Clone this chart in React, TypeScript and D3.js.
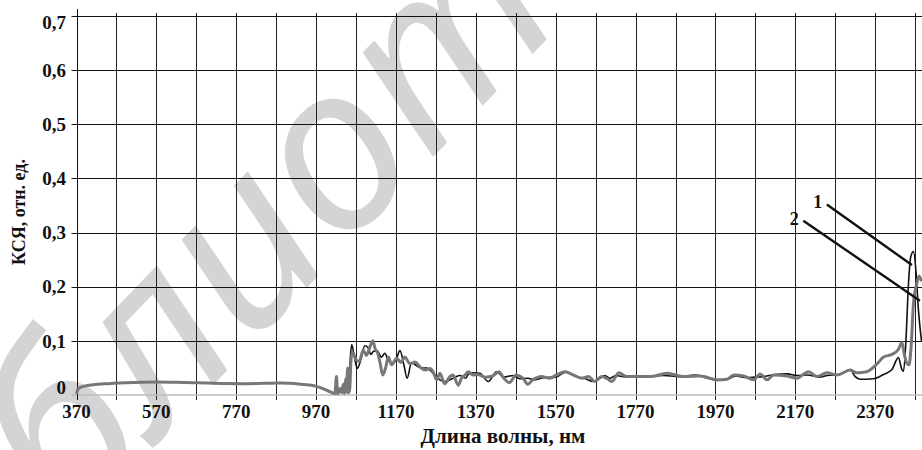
import React, { useEffect, useRef } from 'react';
import * as d3 from 'd3';

// Spectrum 2 (gray, thick)
const wl2 = [
  370, 373, 380, 395, 412, 450, 512, 570, 640, 700, 800, 880, 930, 965, 990, 1005, 1017,
  1021, 1024, 1030, 1034, 1038, 1041, 1044, 1046, 1049, 1051, 1054, 1058, 1062, 1070,
  1078, 1088, 1096, 1103, 1112, 1118, 1124, 1130, 1137, 1144, 1151, 1159, 1172, 1182,
  1192, 1205, 1218, 1230, 1243, 1255, 1263, 1272, 1280, 1292, 1305, 1313, 1326, 1334,
  1343, 1351, 1363, 1374, 1395, 1412, 1429, 1437, 1454, 1471, 1488, 1500, 1513, 1534,
  1555, 1572, 1593, 1614, 1635, 1652, 1668, 1685, 1699, 1711, 1728, 1748, 1773, 1807,
  1849, 1891, 1932, 1974, 1999, 2016, 2041, 2066, 2082, 2099, 2116, 2149, 2174, 2203,
  2224, 2249, 2274, 2308, 2324, 2349, 2374, 2391, 2412, 2428, 2437, 2443, 2449, 2455,
  2460, 2466, 2474, 2480, 2486,
];
const ksy2 = [
  0.002, 0.01, 0.014, 0.017, 0.019, 0.021, 0.023, 0.024, 0.023, 0.022, 0.021, 0.022, 0.02,
  0.017, 0.011, 0.006, 0.003, 0.034, 0.002, 0.012, 0.004, 0.02, 0.003, 0.03, 0.005, 0.05,
  0.004, 0.01, 0.07, 0.078, 0.065, 0.062, 0.083, 0.073, 0.085, 0.1, 0.085, 0.078, 0.06,
  0.037, 0.05, 0.07, 0.056, 0.068, 0.06, 0.07, 0.058, 0.061, 0.052, 0.046, 0.049, 0.043,
  0.028, 0.04, 0.021, 0.034, 0.037, 0.018, 0.031, 0.037, 0.043, 0.037, 0.038, 0.033,
  0.035, 0.043, 0.034, 0.023, 0.037, 0.031, 0.02, 0.028, 0.034, 0.031, 0.037, 0.043,
  0.037, 0.031, 0.034, 0.025, 0.034, 0.03, 0.025, 0.041, 0.034, 0.034, 0.034, 0.04,
  0.034, 0.035, 0.028, 0.029, 0.037, 0.035, 0.028, 0.039, 0.028, 0.037, 0.035, 0.031,
  0.043, 0.034, 0.041, 0.037, 0.046, 0.041, 0.043, 0.057, 0.07, 0.075, 0.084, 0.097,
  0.075, 0.059, 0.056, 0.09, 0.17, 0.205, 0.22, 0.21,
];

// Spectrum 1 (black, thin)
const wl1 = [
  1048, 1054, 1059, 1066, 1073, 1082, 1092, 1100, 1107, 1113, 1122, 1134, 1142, 1150,
  1160, 1170, 1180, 1190, 1198, 1209, 1222, 1234, 1247, 1255, 1267, 1280, 1292, 1305,
  1318, 1330, 1345, 1351, 1363, 1380, 1401, 1422, 1440, 1463, 1480, 1500, 1517, 1540,
  1570, 1597, 1620, 1645, 1663, 1681, 1693, 1706, 1720, 1745, 1770, 1800, 1840, 1880,
  1920, 1950, 1975, 2000, 2020, 2050, 2070, 2090, 2120, 2150, 2175, 2200, 2230, 2250,
  2282, 2307, 2320, 2332, 2366, 2391, 2412, 2428, 2437, 2441, 2447, 2453, 2459, 2466,
  2472, 2478, 2486,
];
const ksy1 = [
  0.008, 0.05, 0.093, 0.07, 0.049, 0.065, 0.091, 0.088, 0.075, 0.08, 0.082, 0.07, 0.077,
  0.065, 0.058, 0.065, 0.082, 0.055, 0.031, 0.06, 0.054, 0.05, 0.05, 0.046, 0.037, 0.028,
  0.025, 0.028, 0.033, 0.036, 0.031, 0.038, 0.041, 0.04, 0.025, 0.043, 0.033, 0.036, 0.03,
  0.031, 0.028, 0.032, 0.033, 0.043, 0.034, 0.03, 0.025, 0.031, 0.036, 0.031, 0.036,
  0.033, 0.033, 0.034, 0.036, 0.034, 0.037, 0.031, 0.027, 0.029, 0.035, 0.032, 0.033,
  0.034, 0.038, 0.039, 0.036, 0.037, 0.033, 0.036, 0.038, 0.047, 0.034, 0.029, 0.03,
  0.038, 0.047, 0.069, 0.047, 0.044, 0.1, 0.2, 0.255, 0.265, 0.23, 0.16, 0.1,
];

const xGridTicks = d3.range(370, 2471, 100);
const xLabelTicks = d3.range(370, 2371, 200);
const yTicks = [0, 0.1, 0.2, 0.3, 0.4, 0.5, 0.6, 0.7];

// curve labels: [text, label wl, label value, pointer end wl, pointer end value]
const callouts: [string, number, number, number, number][] = [
  ['1', 2249, 0.352, 2462, 0.24],
  ['2', 2190, 0.322, 2482, 0.174],
];

const W = 922;
const H = 450;
const SERIF = '"Liberation Serif", "Times New Roman", serif';

export default function App() {
  const svgRef = useRef<SVGSVGElement | null>(null);

  useEffect(() => {
    if (!svgRef.current) return;
    const svg = d3.select(svgRef.current);
    svg.selectAll('*').remove();

    const x = d3.scaleLinear().domain([370, 2486]).range([76.5, 921.5]);
    const y = d3.scaleLinear().domain([0, 0.7]).range([395, 16]);
    const y0 = y(0);
    const yTop = y(0.7);

    svg.append('rect').attr('width', W).attr('height', H).attr('fill', '#fff');

    // watermark
    svg.append('text')
      .attr('transform', 'translate(73,530) rotate(-46)')
      .attr('x', -262)
      .attr('font-family', '"Noto Sans", sans-serif')
      .attr('font-style', 'italic')
      .attr('font-size', 230)
      .attr('fill', '#d4d4d4')
      .text('библиотека');

    // horizontal grid
    svg.append('g')
      .selectAll('line')
      .data(yTicks.filter(d => d > 0))
      .join('line')
      .attr('x1', x(370) - 5)
      .attr('x2', W)
      .attr('y1', d => Math.round(y(d)) + 0.5)
      .attr('y2', d => Math.round(y(d)) + 0.5)
      .attr('stroke', '#111')
      .attr('stroke-width', 1);

    // vertical grid + ticks below zero
    svg.append('g')
      .selectAll('line')
      .data(xGridTicks.slice(1))
      .join('line')
      .attr('x1', d => Math.round(x(d)) + 0.5)
      .attr('x2', d => Math.round(x(d)) + 0.5)
      .attr('y1', yTop - 3)
      .attr('y2', y0 + 5)
      .attr('stroke', '#222')
      .attr('stroke-width', 1);

    // zero line
    svg.append('line')
      .attr('x1', x(370) - 5)
      .attr('x2', W)
      .attr('y1', y0)
      .attr('y2', y0)
      .attr('stroke', '#bdbdbd')
      .attr('stroke-width', 1.5);

    // left axis
    svg.append('line')
      .attr('x1', Math.round(x(370)) + 0.5)
      .attr('x2', Math.round(x(370)) + 0.5)
      .attr('y1', yTop - 7)
      .attr('y2', y0 + 5)
      .attr('stroke', '#111')
      .attr('stroke-width', 1);

    // y tick labels
    svg.append('g')
      .selectAll('text')
      .data(yTicks)
      .join('text')
      .attr('x', 66)
      .attr('y', d => y(d) + (d === 0.7 ? 6 : d === 0 ? -8 : 0))
      .attr('dy', '0.35em')
      .attr('text-anchor', 'end')
      .attr('font-family', SERIF)
      .attr('font-weight', 'bold')
      .attr('font-size', 19)
      .attr('fill', '#111')
      .text(d => (d === 0 ? '0' : d3.format('.1f')(d).replace('.', ',')));

    // x tick labels
    svg.append('g')
      .selectAll('text')
      .data(xLabelTicks)
      .join('text')
      .attr('x', d => x(d))
      .attr('y', 418)
      .attr('text-anchor', 'middle')
      .attr('font-family', SERIF)
      .attr('font-weight', 'bold')
      .attr('font-size', 19)
      .attr('fill', '#111')
      .text(d => String(d));

    // axis titles
    svg.append('text')
      .attr('x', 503)
      .attr('y', 443)
      .attr('text-anchor', 'middle')
      .attr('font-family', SERIF)
      .attr('font-weight', 'bold')
      .attr('font-size', 21)
      .attr('fill', '#111')
      .text('Длина волны, нм');

    svg.append('text')
      .attr('transform', 'translate(25,212) rotate(-90)')
      .attr('text-anchor', 'middle')
      .attr('font-family', SERIF)
      .attr('font-weight', 'bold')
      .attr('font-size', 18)
      .attr('fill', '#111')
      .text('КСЯ, отн. ед.');

    const line = d3.line<[number, number]>()
      .x(d => x(d[0]))
      .y(d => y(d[1]))
      .curve(d3.curveMonotoneX);

    const s1 = wl1.map((w, i) => [w, ksy1[i]] as [number, number]);
    const s2 = wl2.map((w, i) => [w, ksy2[i]] as [number, number]);

    svg.append('path')
      .datum(s1)
      .attr('d', line)
      .attr('fill', 'none')
      .attr('stroke', '#111')
      .attr('stroke-width', 1.6);

    svg.append('path')
      .datum(s2)
      .attr('d', line)
      .attr('fill', 'none')
      .attr('stroke', '#777')
      .attr('stroke-width', 3)
      .attr('stroke-linejoin', 'round');

    // curve callouts
    const cg = svg.append('g');
    cg.selectAll('line')
      .data(callouts)
      .join('line')
      .attr('x1', d => x(d[1]))
      .attr('y1', d => y(d[2]))
      .attr('x2', d => x(d[3]))
      .attr('y2', d => y(d[4]))
      .attr('stroke', '#111')
      .attr('stroke-width', 2.4);
    cg.selectAll('text')
      .data(callouts)
      .join('text')
      .attr('x', d => x(d[1]) - 9)
      .attr('y', d => y(d[2]) + 4)
      .attr('text-anchor', 'middle')
      .attr('font-family', SERIF)
      .attr('font-weight', 'bold')
      .attr('font-size', 18)
      .attr('fill', '#111')
      .text(d => d[0]);
  }, []);

  return (
    <svg
      ref={svgRef}
      width={W}
      height={H}
      style={{ position: 'absolute', left: 0, top: 0, display: 'block' }}
    />
  );
}
